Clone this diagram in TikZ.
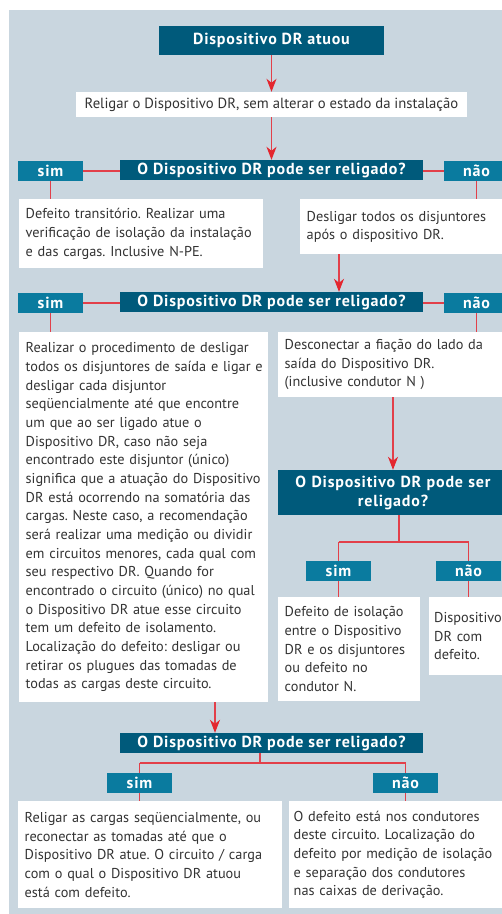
\documentclass[tikz,border=0pt]{standalone}
\usepackage{fontspec}
\setmainfont{PT Sans}
\newfontfamily\titlefont[LetterSpace=5.0]{PT Sans}
\usetikzlibrary{arrows.meta}
\definecolor{bg}{HTML}{C9D6DF}
\definecolor{darkb}{HTML}{005A7B}
\definecolor{midb}{HTML}{0A7B9F}
\definecolor{rline}{HTML}{E2404A}
\definecolor{rtip}{HTML}{E3262E}
\definecolor{txt}{HTML}{333333}
\begin{document}
\frenchspacing
\begin{tikzpicture}[x=1pt,y=-1pt,
  darkbox/.style={fill=darkb, text=white, font=\titlefont\bfseries\fontsize{16}{19}\selectfont, inner sep=0pt, align=center},
  labbox/.style={fill=midb, text=white, font=\titlefont\bfseries\fontsize{16}{17}\selectfont, minimum width=65pt, minimum height=20pt, inner sep=0pt},
  wbox/.style={fill=white, text=txt, font=\fontsize{14.3}{18.67}\selectfont, inner xsep=6.5pt, inner ysep=0pt, anchor=north west, align=left},
  link/.style={draw=rline, line width=1.1pt},
  arr/.style={link, -{Stealth[length=13pt, width=10pt, inset=4pt, color=rtip]}}]
\useasboundingbox (0,0) rectangle (502,914);
\fill[bg] (9,10) rectangle (502,914);

\node[darkbox, minimum width=225pt, minimum height=29pt] (start) at (271.5,40.5) {Dispositivo DR atuou};
\node[wbox, anchor=center, align=center, minimum width=391pt, minimum height=25pt, font=\fontsize{14.7}{18}\selectfont] (religar) at (271.5,104.5) {Religar o Dispositivo DR, sem alterar o estado da instalação};
\node[darkbox, minimum width=303pt, minimum height=20pt] (q1) at (271.5,170) {O Dispositivo DR pode ser religado?};
\node[labbox] (sim1) at (50.5,171) {sim};
\node[labbox] (nao1) at (476.5,171) {não};
\node[wbox, minimum width=244pt, text width=231pt, minimum height=69pt] (b1) at (19,199) {Defeito transitório. Realizar uma\\verificação de isolação da instalação\\e das cargas. Inclusive N-PE.};
\node[wbox, minimum width=215pt, text width=202pt, minimum height=55pt] (b2) at (300,199) {Desligar todos os disjuntores\\após o dispositivo DR.};

\node[darkbox, minimum width=303pt, minimum height=20pt] (q2) at (271.5,302) {O Dispositivo DR pode ser religado?};
\node[labbox] (sim2) at (50.5,303) {sim};
\node[labbox] (nao2) at (476.5,303) {não};
\node[wbox, minimum width=249pt, text width=240pt, inner xsep=4.5pt, minimum height=370pt] (b3) at (19,332) {\hspace*{2pt}Realizar o procedimento de desligar\\\hspace*{2pt}todos os disjuntores de saída e ligar e\\\hspace*{2pt}desligar cada disjuntor\\\hspace*{2pt}seqüencialmente até que encontre\\\hspace*{2pt}um que ao ser ligado atue o\\\hspace*{2pt}Dispositivo DR, caso não seja\\\hspace*{2pt}encontrado este disjuntor (único)\\\hspace*{2pt}significa que a atuação do Dispositivo\\\hspace*{2pt}DR está ocorrendo na somatória das\\\hspace*{2pt}cargas. Neste caso, a recomendação\\\hspace*{2pt}será realizar uma medição ou dividir\\\hspace*{2pt}em circuitos menores, cada qual com\\\hspace*{2pt}seu respectivo DR. Quando for\\\hspace*{2pt}encontrado o circuito (único) no qual\\\hspace*{2pt}o Dispositivo DR atue esse circuito\\\hspace*{2pt}tem um defeito de isolamento.\\\hspace*{2pt}Localização do defeito: desligar ou\\\hspace*{2pt}retirar os plugues das tomadas de\\\hspace*{2pt}todas as cargas deste circuito.};
\node[wbox, minimum width=230pt, text width=217pt, minimum height=65pt] (b4) at (278,332) {Desconectar a fiação do lado da\\saída do Dispositivo DR.\\(inclusive condutor N )};

\node[darkbox, minimum width=230pt, minimum height=45pt, text width=225pt] (q3) at (393,492.5) {O Dispositivo DR pode ser\\religado?};
\node[labbox] (sim3) at (338.5,571) {sim};
\node[labbox] (nao3) at (468.5,571) {não};
\node[wbox, minimum width=142pt, text width=129pt, minimum height=104pt] (b5) at (278,597) {Defeito de isolação\\entre o Dispositivo\\DR e os disjuntores\\ou defeito no\\condutor N.};
\node[wbox, minimum width=90pt, text width=80pt, inner xsep=5pt, minimum height=78pt] (b6) at (429,597) {Dispositivo\\DR com\\defeito.};

\node[darkbox, minimum width=303pt, minimum height=20pt] (q4) at (271.5,743) {O Dispositivo DR pode ser religado?};
\node[labbox] (sim4) at (139.5,783) {sim};
\node[labbox] (nao4) at (405.5,783) {não};
\node[wbox, minimum width=264pt, text width=251pt, minimum height=107pt] (b7) at (18,801) {Religar as cargas seqüencialmente, ou\\reconectar as tomadas até que o\\Dispositivo DR atue. O circuito / carga\\com o qual o Dispositivo DR atuou\\está com defeito.};
\node[wbox, minimum width=225pt, text width=216pt, inner xsep=4.5pt, minimum height=107pt] (b8) at (289,801) {O defeito está nos condutores\\deste circuito. Localização do\\defeito por medição de isolação\\e separação dos condutores\\nas caixas de derivação.};

% connectors
\draw[arr] (start) -- (religar);
\draw[arr] (religar) -- (q1);
\draw[link] (sim1.east) -- (sim1.east -| q1.west);
\draw[link] (nao1.west) -- (nao1.west -| q1.east);
\draw[link] (sim1) -- (sim1 |- b1.north);
\draw[link] (nao1) -- (nao1 |- b2.north);
\coordinate (ax2) at (339,0);
\draw[arr] (b2.south -| ax2) -- (q2.north -| ax2);
\draw[link] (sim2.east) -- (sim2.east -| q2.west);
\draw[link] (nao2.west) -- (nao2.west -| q2.east);
\draw[link] (sim2) -- (sim2 |- b3.north);
\draw[link] (nao2) -- (nao2 |- b4.north);
\draw[arr] (b4.south -| q3) -- (q3);
\coordinate (t3) at (399,542);
\draw[link] (q3.south -| t3) -- (t3);
\draw[link] (sim3 |- t3) -- (nao3 |- t3);
\draw[link] (sim3 |- t3) -- (sim3);
\draw[link] (nao3 |- t3) -- (nao3);
\draw[link] (sim3) -- (sim3 |- b5.north);
\draw[link] (nao3) -- (nao3 |- b6.north);
\coordinate (ax4) at (215,0);
\draw[arr] (b3.south -| ax4) -- (q4.north -| ax4);
\coordinate (t4) at (260,763);
\draw[link] (q4.south -| t4) -- (t4);
\draw[link] (sim4 |- t4) -- (nao4 |- t4);
\draw[link] (sim4 |- t4) -- (sim4);
\draw[link] (nao4 |- t4) -- (nao4);
\draw[link] (sim4) -- (sim4 |- b7.north);
\draw[link] (nao4) -- (nao4 |- b8.north);
\end{tikzpicture}
\end{document}
